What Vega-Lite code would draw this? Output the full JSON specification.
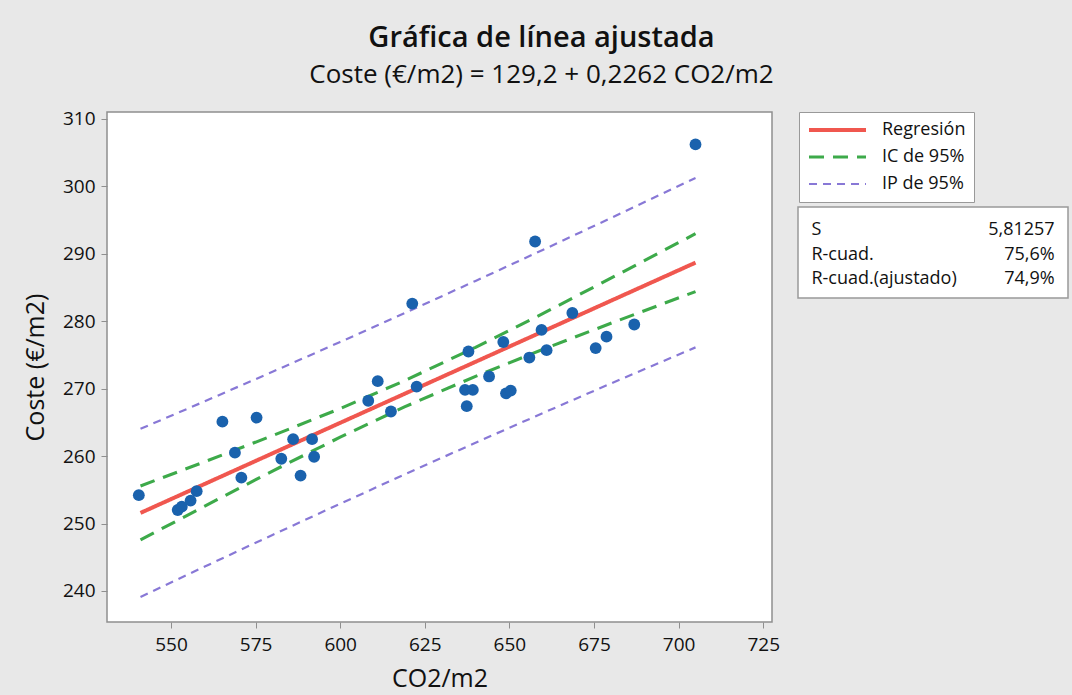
{
  "$schema": "https://vega.github.io/schema/vega-lite/v6.json",
  "autosize": "none",
  "padding": {"left": 107, "top": 112, "right": 965, "bottom": 583},
  "background": "#e8e8e8",
  "bounds": "flush",
  "spacing": 26,
  "config": {
    "font": "Open Sans",
    "axis": {"labelFont": "Open Sans", "titleFont": "Open Sans", "labelColor": "#111", "titleColor": "#111", "tickColor": "#8f8f8f", "domain": false, "grid": false, "titleFontWeight": "normal"},
    "legend": {"labelFont": "Open Sans"}
  },
  "datasets": {
    "puntos": [
      {"co2": 540.5, "coste": 254.2},
      {"co2": 552.0, "coste": 252.0},
      {"co2": 553.2, "coste": 252.5},
      {"co2": 555.8, "coste": 253.4},
      {"co2": 557.6, "coste": 254.8},
      {"co2": 565.2, "coste": 265.1},
      {"co2": 568.9, "coste": 260.5},
      {"co2": 570.8, "coste": 256.8},
      {"co2": 575.3, "coste": 265.7},
      {"co2": 582.6, "coste": 259.6},
      {"co2": 586.1, "coste": 262.5},
      {"co2": 588.3, "coste": 257.1},
      {"co2": 591.7, "coste": 262.5},
      {"co2": 592.3, "coste": 259.9},
      {"co2": 608.3, "coste": 268.2},
      {"co2": 611.1, "coste": 271.1},
      {"co2": 615.0, "coste": 266.6},
      {"co2": 621.3, "coste": 282.6},
      {"co2": 622.6, "coste": 270.3},
      {"co2": 637.4, "coste": 267.4},
      {"co2": 636.9, "coste": 269.8},
      {"co2": 639.2, "coste": 269.8},
      {"co2": 637.9, "coste": 275.5},
      {"co2": 644.0, "coste": 271.8},
      {"co2": 648.2, "coste": 276.9},
      {"co2": 649.0, "coste": 269.3},
      {"co2": 650.4, "coste": 269.7},
      {"co2": 655.9, "coste": 274.6},
      {"co2": 657.6, "coste": 291.8},
      {"co2": 659.5, "coste": 278.7},
      {"co2": 661.0, "coste": 275.7},
      {"co2": 668.6, "coste": 281.2},
      {"co2": 675.5, "coste": 276.0},
      {"co2": 678.7, "coste": 277.7},
      {"co2": 686.9, "coste": 279.5},
      {"co2": 705.0, "coste": 306.2}
    ],
    "bandas": [
      {"co2": 541, "coste": 264.03, "serie": "IP de 95%", "linea": "IP sup"},
      {"co2": 560, "coste": 268.12, "serie": "IP de 95%", "linea": "IP sup"},
      {"co2": 580, "coste": 272.49, "serie": "IP de 95%", "linea": "IP sup"},
      {"co2": 600, "coste": 276.91, "serie": "IP de 95%", "linea": "IP sup"},
      {"co2": 619, "coste": 281.18, "serie": "IP de 95%", "linea": "IP sup"},
      {"co2": 640, "coste": 285.96, "serie": "IP de 95%", "linea": "IP sup"},
      {"co2": 660, "coste": 290.59, "serie": "IP de 95%", "linea": "IP sup"},
      {"co2": 680, "coste": 295.28, "serie": "IP de 95%", "linea": "IP sup"},
      {"co2": 705, "coste": 301.23, "serie": "IP de 95%", "linea": "IP sup"},
      {"co2": 541, "coste": 239.11, "serie": "IP de 95%", "linea": "IP inf"},
      {"co2": 560, "coste": 243.62, "serie": "IP de 95%", "linea": "IP inf"},
      {"co2": 580, "coste": 248.31, "serie": "IP de 95%", "linea": "IP inf"},
      {"co2": 600, "coste": 252.93, "serie": "IP de 95%", "linea": "IP inf"},
      {"co2": 619, "coste": 257.26, "serie": "IP de 95%", "linea": "IP inf"},
      {"co2": 640, "coste": 261.98, "serie": "IP de 95%", "linea": "IP inf"},
      {"co2": 660, "coste": 266.39, "serie": "IP de 95%", "linea": "IP inf"},
      {"co2": 680, "coste": 270.76, "serie": "IP de 95%", "linea": "IP inf"},
      {"co2": 705, "coste": 276.11, "serie": "IP de 95%", "linea": "IP inf"},
      {"co2": 541, "coste": 255.57, "serie": "IC de 95%", "linea": "IC sup"},
      {"co2": 560, "coste": 259.16, "serie": "IC de 95%", "linea": "IC sup"},
      {"co2": 580, "coste": 263.02, "serie": "IC de 95%", "linea": "IC sup"},
      {"co2": 600, "coste": 267.04, "serie": "IC de 95%", "linea": "IC sup"},
      {"co2": 619, "coste": 271.16, "serie": "IC de 95%", "linea": "IC sup"},
      {"co2": 640, "coste": 276.12, "serie": "IC de 95%", "linea": "IC sup"},
      {"co2": 660, "coste": 281.15, "serie": "IC de 95%", "linea": "IC sup"},
      {"co2": 680, "coste": 286.36, "serie": "IC de 95%", "linea": "IC sup"},
      {"co2": 705, "coste": 292.96, "serie": "IC de 95%", "linea": "IC sup"},
      {"co2": 541, "coste": 247.57, "serie": "IC de 95%", "linea": "IC inf"},
      {"co2": 560, "coste": 252.58, "serie": "IC de 95%", "linea": "IC inf"},
      {"co2": 580, "coste": 257.78, "serie": "IC de 95%", "linea": "IC inf"},
      {"co2": 600, "coste": 262.80, "serie": "IC de 95%", "linea": "IC inf"},
      {"co2": 619, "coste": 267.28, "serie": "IC de 95%", "linea": "IC inf"},
      {"co2": 640, "coste": 271.82, "serie": "IC de 95%", "linea": "IC inf"},
      {"co2": 660, "coste": 275.83, "serie": "IC de 95%", "linea": "IC inf"},
      {"co2": 680, "coste": 279.68, "serie": "IC de 95%", "linea": "IC inf"},
      {"co2": 705, "coste": 284.38, "serie": "IC de 95%", "linea": "IC inf"},
      {"co2": 541, "coste": 251.57, "serie": "Regresión", "linea": "Regresión"},
      {"co2": 560, "coste": 255.87, "serie": "Regresión", "linea": "Regresión"},
      {"co2": 580, "coste": 260.40, "serie": "Regresión", "linea": "Regresión"},
      {"co2": 600, "coste": 264.92, "serie": "Regresión", "linea": "Regresión"},
      {"co2": 619, "coste": 269.22, "serie": "Regresión", "linea": "Regresión"},
      {"co2": 640, "coste": 273.97, "serie": "Regresión", "linea": "Regresión"},
      {"co2": 660, "coste": 278.49, "serie": "Regresión", "linea": "Regresión"},
      {"co2": 680, "coste": 283.02, "serie": "Regresión", "linea": "Regresión"},
      {"co2": 705, "coste": 288.67, "serie": "Regresión", "linea": "Regresión"}
    ],
    "estadisticos": [
      {"estadistico": "S", "valor": "5,81257"},
      {"estadistico": "R-cuad.", "valor": "75,6%"},
      {"estadistico": "R-cuad.(ajustado)", "valor": "74,9%"}
    ]
  },
  "hconcat": [
    {
      "width": 665,
      "height": 510,
      "view": {"stroke": "#8f8f8f", "strokeWidth": 1.5, "fill": "white"},
      "title": {
        "text": "Gráfica de línea ajustada",
        "subtitle": "Coste (€/m2) = 129,2 + 0,2262 CO2/m2",
        "anchor": "middle",
        "frame": "group",
        "dx": 102,
        "font": "Open Sans",
        "fontSize": 29,
        "fontWeight": 600,
        "color": "#111",
        "subtitleFont": "Open Sans",
        "subtitleFontSize": 26,
        "subtitleColor": "#111",
        "subtitlePadding": 9,
        "offset": 22
      },
      "layer": [
        {
          "data": {"name": "bandas"},
          "mark": {"type": "line", "clip": true},
          "encoding": {
            "x": {"field": "co2", "type": "quantitative", "scale": {"domain": [531.1, 727.6], "nice": false, "zero": false},
                  "axis": {"values": [550, 575, 600, 625, 650, 675, 700, 725], "title": "CO2/m2", "tickSize": 6, "labelPadding": 7, "labelFontSize": 19, "titleFontSize": 25, "titlePadding": 12}},
            "y": {"field": "coste", "type": "quantitative", "scale": {"domain": [235.4, 311.0], "nice": false, "zero": false},
                  "axis": {"values": [240, 250, 260, 270, 280, 290, 300, 310], "title": "Coste (€/m2)", "tickSize": 6, "labelPadding": 6, "labelFontSize": 19, "titleFontSize": 25, "titlePadding": 14}},
            "detail": {"field": "linea"},
            "color": {"field": "serie", "type": "nominal",
                      "scale": {"domain": ["Regresión", "IC de 95%", "IP de 95%"], "range": ["#f0574f", "#3daa4a", "#8878d6"]},
                      "legend": {"orient": "none", "legendX": 692, "legendY": 0, "title": null, "padding": 8, "strokeColor": "#999", "fillColor": "white",
                                 "symbolType": "stroke", "symbolSize": 3249, "symbolStrokeWidth": 3, "labelFontSize": 18, "labelColor": "#111", "labelOffset": 14, "clipHeight": 20, "rowPadding": 7}},
            "strokeDash": {"field": "serie", "type": "nominal",
                           "scale": {"domain": ["Regresión", "IC de 95%", "IP de 95%"], "range": [[1, 0], [15, 9], [8, 6]]},
                           "legend": {"orient": "none", "legendX": 692, "legendY": 0, "title": null}},
            "strokeWidth": {"field": "serie", "type": "nominal",
                            "scale": {"domain": ["Regresión", "IC de 95%", "IP de 95%"], "range": [4, 2.2, 2.5]},
                            "legend": null}
          }
        },
        {
          "data": {"name": "puntos"},
          "mark": {"type": "circle", "size": 140, "color": "#1a62ad", "opacity": 1},
          "encoding": {
            "x": {"field": "co2", "type": "quantitative"},
            "y": {"field": "coste", "type": "quantitative"}
          }
        }
      ]
    },
    {
      "bounds": "flush",
      "spacing": 20,
      "vconcat": [
        {
          "width": 270,
          "height": 75,
          "view": {"stroke": null, "fill": null},
          "data": {"values": []},
          "mark": "point"
        },
        {
          "width": 270,
          "height": 91,
          "view": {"stroke": "#999", "strokeWidth": 1.5, "fill": "white"},
          "data": {"name": "estadisticos"},
          "layer": [
            {
              "mark": {"type": "text", "align": "left", "fontSize": 18, "font": "Open Sans", "color": "#111", "dy": 2},
              "encoding": {
                "y": {"field": "estadistico", "type": "nominal", "sort": null, "axis": null, "scale": {"type": "point", "padding": 0.86}},
                "x": {"datum": "nombre", "type": "nominal", "axis": null, "scale": {"type": "point", "domain": ["nombre", "valor"], "padding": 0.055}},
                "text": {"field": "estadistico"}
              }
            },
            {
              "mark": {"type": "text", "align": "right", "fontSize": 18, "font": "Open Sans", "color": "#111", "dy": 2},
              "encoding": {
                "y": {"field": "estadistico", "type": "nominal", "sort": null, "axis": null},
                "x": {"datum": "valor", "type": "nominal", "axis": null},
                "text": {"field": "valor"}
              }
            }
          ]
        }
      ]
    }
  ]
}
